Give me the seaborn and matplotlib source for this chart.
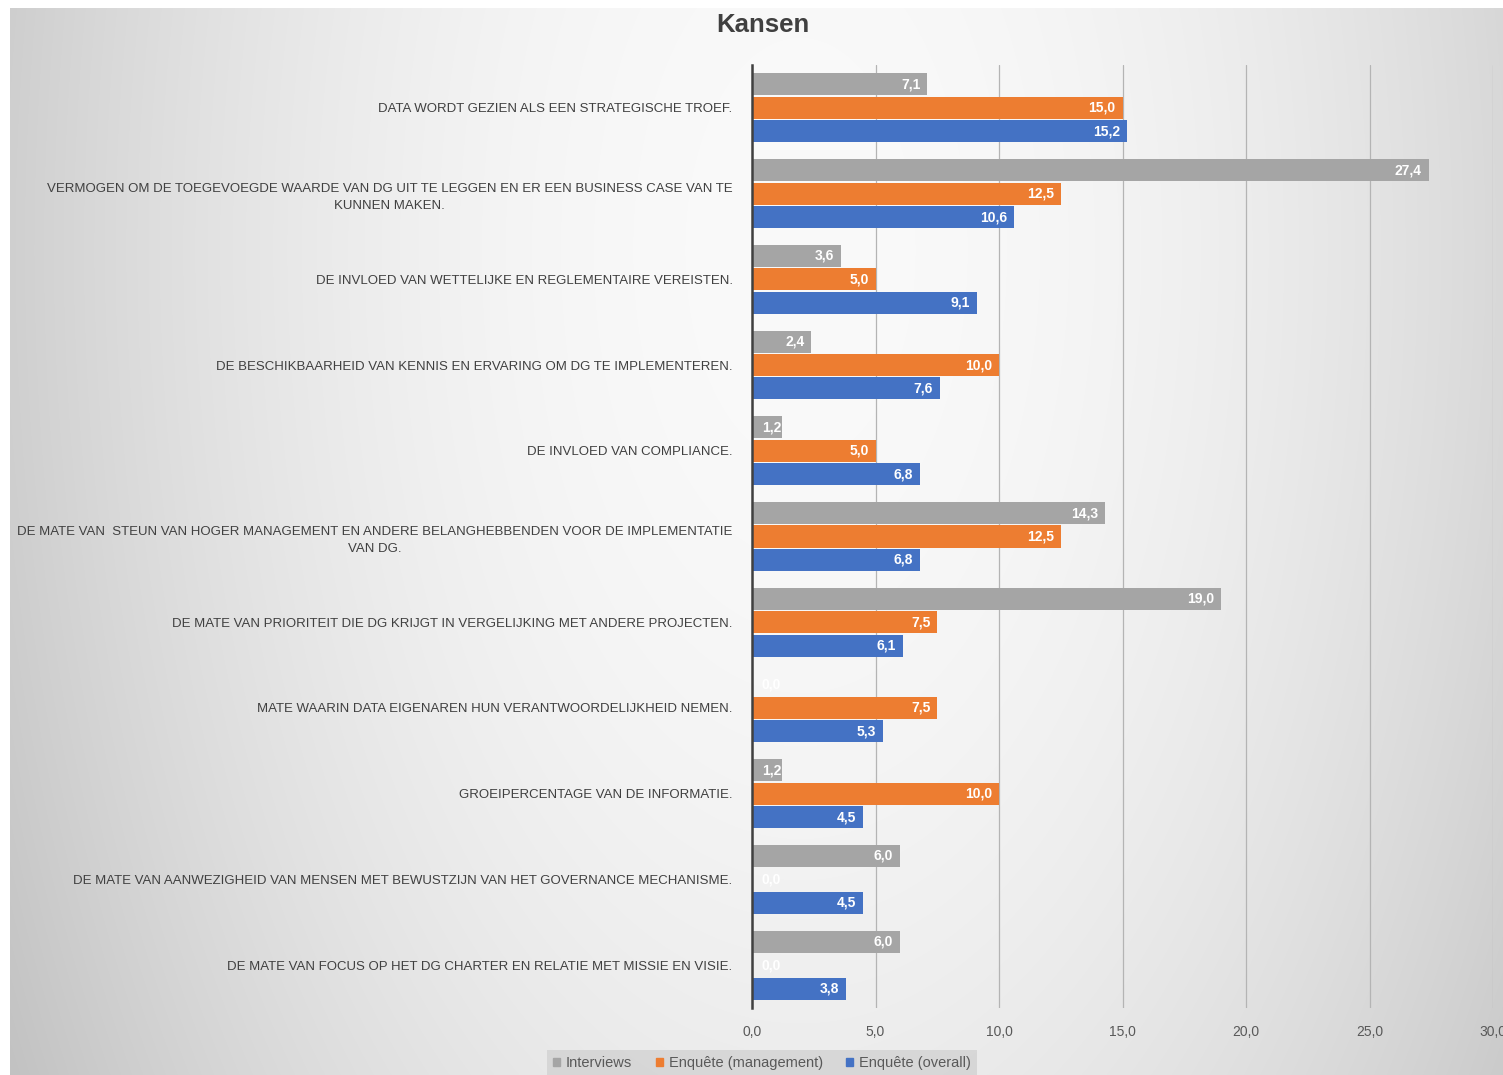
import numpy as np
import pandas as pd
import matplotlib
matplotlib.use("Agg")
import matplotlib.pyplot as plt
import seaborn as sns
from matplotlib.ticker import FuncFormatter

sns.set_theme(style="white")
plt.rcParams['font.family'] = ['Liberation Sans', 'DejaVu Sans']

categories = [
    "DATA WORDT GEZIEN ALS EEN STRATEGISCHE TROEF.",
    "VERMOGEN OM DE TOEGEVOEGDE WAARDE VAN DG UIT TE LEGGEN EN ER EEN BUSINESS CASE VAN TE\nKUNNEN MAKEN.",
    "DE INVLOED VAN WETTELIJKE EN REGLEMENTAIRE VEREISTEN.",
    "DE BESCHIKBAARHEID VAN KENNIS EN ERVARING OM DG TE IMPLEMENTEREN.",
    "DE INVLOED VAN COMPLIANCE.",
    "DE MATE VAN  STEUN VAN HOGER MANAGEMENT EN ANDERE BELANGHEBBENDEN VOOR DE IMPLEMENTATIE\nVAN DG.",
    "DE MATE VAN PRIORITEIT DIE DG KRIJGT IN VERGELIJKING MET ANDERE PROJECTEN.",
    "MATE WAARIN DATA EIGENAREN HUN VERANTWOORDELIJKHEID NEMEN.",
    "GROEIPERCENTAGE VAN DE INFORMATIE.",
    "DE MATE VAN AANWEZIGHEID VAN MENSEN MET BEWUSTZIJN VAN HET GOVERNANCE MECHANISME.",
    "DE MATE VAN FOCUS OP HET DG CHARTER EN RELATIE MET MISSIE EN VISIE.",
]
series_names = ["Interviews", "Enquête (management)", "Enquête (overall)"]
interviews = [7.1, 27.4, 3.6, 2.4, 1.2, 14.3, 19.0, 0.0, 1.2, 6.0, 6.0]
enquete_management = [15.0, 12.5, 5.0, 10.0, 5.0, 12.5, 7.5, 7.5, 10.0, 0.0, 0.0]
enquete_overall = [15.2, 10.6, 9.1, 7.6, 6.8, 6.8, 6.1, 5.3, 4.5, 4.5, 3.8]
colors = ["#A5A5A5", "#ED7D31", "#4472C4"]
x_ticks = [0, 5, 10, 15, 20, 25, 30]

rows = []
for name, vals in zip(series_names, [interviews, enquete_management, enquete_overall]):
    for c, v in zip(categories, vals):
        rows.append({"cat": c, "series": name, "value": v})
df = pd.DataFrame(rows)

W, H = 1503, 1075
fig = plt.figure(figsize=(W / 100, H / 100), dpi=100)
fig.patch.set_facecolor("white")

# background gradient
bg = fig.add_axes([10 / W, 0, 1 - 10 / W, 1 - 8 / H], zorder=-10)
yy, xx = np.mgrid[8:H, 10:W]
val = 0.98 - 0.15 * ((xx - 800) / 750.0) ** 2 - 0.05 * ((yy - 250) / 800.0) ** 2
val = np.clip(val, 0, 1)
bg.imshow(np.dstack([val, val, val]), aspect="auto", extent=[0, 1, 0, 1], origin="upper")
bg.axis("off")

ax = fig.add_axes([752 / W, 1 - 1008 / H, (1493 - 752) / W, (1008 - 65) / H])
ax.patch.set_alpha(0)

sns.barplot(data=df, y="cat", x="value", hue="series", order=categories,
            hue_order=series_names, palette=colors, orient="h", width=0.82,
            gap=0.06, linewidth=0, saturation=1, ax=ax, legend=False,
            errorbar=None)

ax.set_xlim(0, 30)
ax.set_ylim(len(categories) - 0.5, -0.5)
ax.set_xticks(x_ticks)
ax.xaxis.set_major_formatter(FuncFormatter(lambda v, p: f"{v:.1f}".replace(".", ",")))
ax.set_xlabel("")
ax.set_ylabel("")
ax.grid(axis="x", color="#b4b4b4", linewidth=0.9)
ax.set_axisbelow(True)
for s in ["top", "right", "bottom"]:
    ax.spines[s].set_visible(False)
ax.spines["left"].set_color("#404040")
ax.spines["left"].set_linewidth(1.8)
ax.spines["left"].set_zorder(5)
ax.tick_params(axis="x", length=0, pad=12, labelsize=10, labelcolor="#595959")
ax.tick_params(axis="y", length=0, pad=14, labelsize=9.5, labelcolor="#404040")
for t in ax.get_yticklabels():
    t.set_multialignment("center")
    t.set_linespacing(1.6)

# value labels
for cont in ax.containers:
    for p in cont.patches:
        w = p.get_width()
        yc = p.get_y() + p.get_height() / 2
        lab = f"{w:.1f}".replace(".", ",")
        if w >= 2.0:
            ax.annotate(lab, (w, yc), xytext=(-5, 0), textcoords="offset points",
                        ha="right", va="center", color="white", fontsize=10,
                        fontweight="bold", zorder=6)
        else:
            ax.annotate(lab, (0, yc), xytext=(7, 0), textcoords="offset points",
                        ha="left", va="center", color="white", fontsize=10,
                        fontweight="bold", zorder=6)

fig.text(763 / W, 1 - 25 / H, "Kansen", ha="center", va="center",
         fontsize=18.5, fontweight="bold", color="#404040")

handles = [plt.Rectangle((0, 0), 1, 1, color=c) for c in colors]
leg = fig.legend(handles, series_names, loc="center", bbox_to_anchor=(762 / W, 1 - 1063 / H),
                 ncol=3, frameon=True, fontsize=10.5, handlelength=0.5, handleheight=0.5,
                 handletextpad=0.4, columnspacing=1.6, borderpad=0.4, fancybox=False)
leg.get_frame().set_facecolor("#d2d2d2")
leg.get_frame().set_edgecolor("none")
for t in leg.get_texts():
    t.set_color("#595959")

fig.savefig("out.png", dpi=100)
